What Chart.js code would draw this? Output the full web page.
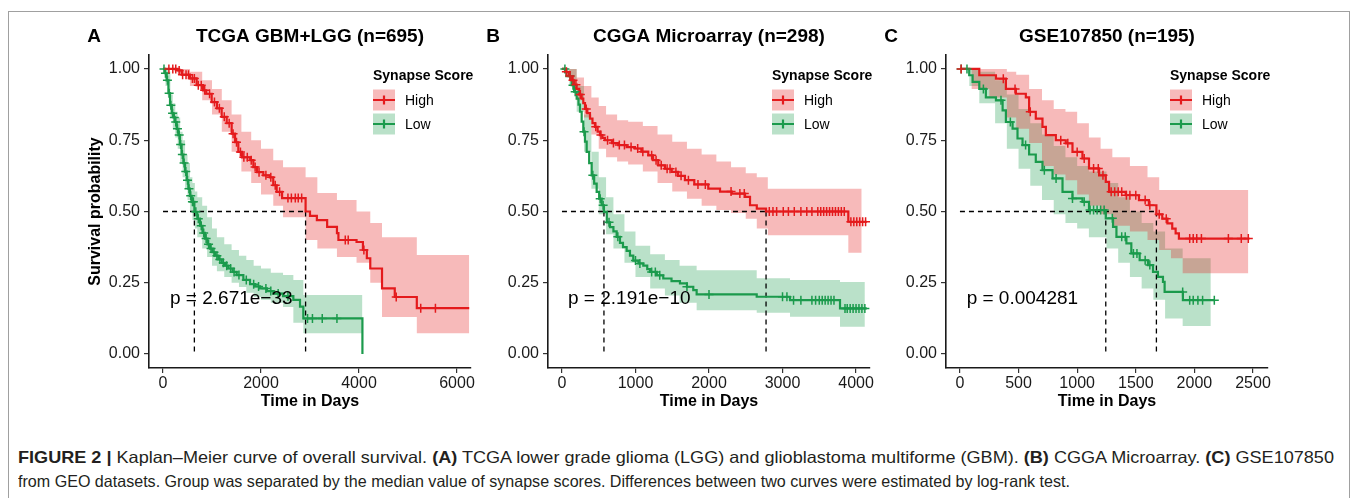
<!DOCTYPE html>
<html>
<head>
<meta charset="utf-8">
<script src="https://cdn.jsdelivr.net/npm/chart.js@4.4.0/dist/chart.umd.min.js"></script>
<style>
  html, body { margin: 0; padding: 0; background: #fff; }
  body { width: 1357px; height: 498px; position: relative; overflow: hidden; }
  #frame { position: absolute; left: 8px; top: 11px; width: 1340px; height: 500px; border: 1px solid #a0a0a0; }
  canvas { position: absolute; top: 0; }
  .capLine { position: absolute; left: 18px; font-family: 'Liberation Sans Narrow', 'Liberation Sans', Arial, sans-serif;
             font-size: 16.5px; line-height: 24px; color: #231f20; white-space: nowrap; transform-origin: 0 0; }
</style>
</head>
<body>
<div id="frame"></div>
<canvas id="cA" width="480" height="440" style="left:0px"></canvas>
<canvas id="cB" width="400" height="440" style="left:480px"></canvas>
<canvas id="cC" width="477" height="440" style="left:880px"></canvas>
<span class="capLine" id="capLine1" style="top:445px"><b>FIGURE 2 |</b> Kaplan–Meier curve of overall survival. <b>(A)</b> TCGA lower grade glioma (LGG) and glioblastoma multiforme (GBM). <b>(B)</b> CGGA Microarray. <b>(C)</b> GSE107850</span>
<span class="capLine" id="capLine2" style="top:469px">from GEO datasets. Group was separated by the median value of synapse scores. Differences between two curves were estimated by log-rank test.</span>
<script>
// ---- data ----
const groups = ['High', 'Low'];
const yTicks = [0, 0.25, 0.5, 0.75, 1];

// A: TCGA GBM+LGG
const tcgaTicks = [0, 2000, 4000, 6000];
const tcgaHighT = [0, 300, 380, 550, 687, 815, 883, 993, 1100, 1197, 1300, 1401, 1470, 1537, 1610, 1780, 1844, 1920, 2048, 2180, 2250, 2320, 2430, 2910, 3000, 3140, 3350, 3550, 3580, 3950, 4080, 4160, 4230, 4470, 4730, 5180, 6250];
const tcgaHighS = [1, 0.995, 0.98, 0.967, 0.943, 0.925, 0.913, 0.884, 0.862, 0.832, 0.81, 0.773, 0.743, 0.709, 0.69, 0.68, 0.656, 0.638, 0.627, 0.62, 0.592, 0.569, 0.547, 0.50, 0.485, 0.47, 0.446, 0.424, 0.40, 0.393, 0.365, 0.336, 0.30, 0.23, 0.20, 0.161, 0.161];
const tcgaHighBandT = [0, 300, 550, 800, 1000, 1200, 1400, 1600, 1800, 2000, 2250, 2450, 2910, 3150, 3550, 3950, 4230, 4470, 5180, 6250];
const tcgaHighLo = [1, 0.98, 0.94, 0.89, 0.84, 0.78, 0.71, 0.64, 0.60, 0.56, 0.52, 0.48, 0.40, 0.37, 0.34, 0.32, 0.25, 0.13, 0.073, 0.073];
const tcgaHighHi = [1, 1.0, 0.99, 0.96, 0.93, 0.89, 0.84, 0.78, 0.75, 0.72, 0.68, 0.655, 0.62, 0.565, 0.54, 0.50, 0.46, 0.41, 0.347, 0.347];
const tcgaHighCens = [120, 200, 260, 330, 400, 470, 520, 600, 640, 720, 780, 850, 950, 1050, 1150, 1250, 1350, 1430, 1500, 1580, 1650, 1720, 1800, 1880, 1960, 2100, 2200, 2290, 2380, 2550, 2620, 2700, 2760, 2830, 3720, 3780, 4100, 4760, 5260, 5560];
const tcgaLowT = [0, 40, 75, 110, 143, 180, 215, 245, 280, 312, 345, 380, 415, 450, 485, 517, 550, 585, 640, 700, 755, 806, 857, 908, 959, 1010, 1061, 1130, 1197, 1265, 1333, 1420, 1503, 1640, 1776, 1880, 1980, 2120, 2251, 2450, 2660, 2796, 2864, 4070];
const tcgaLowS = [1, 0.985, 0.96, 0.915, 0.873, 0.845, 0.83, 0.814, 0.79, 0.768, 0.735, 0.70, 0.67, 0.64, 0.61, 0.58, 0.555, 0.534, 0.499, 0.475, 0.45, 0.425, 0.405, 0.385, 0.37, 0.357, 0.345, 0.332, 0.32, 0.31, 0.30, 0.288, 0.277, 0.26, 0.245, 0.237, 0.23, 0.221, 0.212, 0.203, 0.19, 0.166, 0.125, 0];
const tcgaLowBandT = [0, 50, 100, 150, 200, 250, 300, 350, 400, 450, 500, 550, 600, 650, 700, 800, 900, 1000, 1100, 1250, 1400, 1550, 1700, 1850, 2000, 2200, 2450, 2660, 2864, 4070];
const tcgaLowLo = [1, 0.94, 0.90, 0.83, 0.79, 0.76, 0.72, 0.67, 0.62, 0.58, 0.54, 0.50, 0.47, 0.44, 0.41, 0.37, 0.34, 0.31, 0.29, 0.27, 0.25, 0.235, 0.215, 0.20, 0.19, 0.18, 0.165, 0.11, 0.073, 0.073];
const tcgaLowHi = [1, 1.0, 0.99, 0.91, 0.88, 0.85, 0.83, 0.78, 0.75, 0.70, 0.67, 0.62, 0.60, 0.57, 0.55, 0.52, 0.48, 0.44, 0.41, 0.385, 0.365, 0.345, 0.33, 0.31, 0.30, 0.285, 0.277, 0.26, 0.207, 0.207];
const tcgaLowCens = [20, 50, 90, 125, 160, 195, 230, 260, 295, 330, 360, 395, 430, 465, 500, 530, 565, 600, 620, 670, 720, 780, 830, 880, 930, 980, 1040, 1100, 1160, 1230, 1300, 1380, 1450, 1550, 1700, 1850, 1950, 2100, 2200, 2350, 2550, 2950, 3050, 3250, 3550];

// B: CGGA Microarray
const cggaTicks = [0, 1000, 2000, 3000, 4000];
const cggaHighT = [0, 41, 90, 132, 165, 200, 235, 268, 290, 313, 345, 381, 415, 449, 485, 517, 550, 585, 680, 766, 880, 993, 1080, 1174, 1240, 1310, 1400, 1493, 1580, 1673, 1800, 1990, 2150, 2309, 2490, 2558, 2650, 2776, 3895, 4145];
const cggaHighS = [1, 0.99, 0.975, 0.96, 0.945, 0.93, 0.91, 0.896, 0.88, 0.86, 0.845, 0.826, 0.81, 0.797, 0.78, 0.768, 0.758, 0.75, 0.74, 0.733, 0.726, 0.721, 0.71, 0.697, 0.68, 0.662, 0.65, 0.639, 0.625, 0.61, 0.595, 0.58, 0.57, 0.563, 0.551, 0.522, 0.51, 0.50, 0.464, 0.464];
const cggaHighBandT = [0, 100, 200, 300, 400, 500, 600, 750, 900, 1100, 1300, 1500, 1700, 1900, 2100, 2300, 2500, 2650, 2800, 3895, 4077];
const cggaHighLo = [1, 0.96, 0.89, 0.83, 0.77, 0.72, 0.69, 0.675, 0.665, 0.64, 0.60, 0.57, 0.545, 0.52, 0.505, 0.495, 0.475, 0.44, 0.417, 0.355, 0.355];
const cggaHighHi = [1, 1.0, 0.97, 0.94, 0.90, 0.87, 0.84, 0.82, 0.815, 0.80, 0.77, 0.745, 0.72, 0.70, 0.675, 0.655, 0.634, 0.62, 0.58, 0.58, 0.58];
const cggaHighCens = [60, 110, 150, 190, 250, 330, 460, 530, 620, 700, 780, 850, 940, 1030, 1100, 1220, 1280, 1350, 1430, 1470, 1550, 1620, 1720, 1850, 1950, 2300, 2420, 2480, 2820, 2870, 2920, 3010, 3080, 3160, 3250, 3330, 3400, 3480, 3520, 3560, 3600, 3640, 3680, 3720, 3760, 3800, 3840, 3930, 3970, 4010, 4050, 4090, 4130];
const cggaLowT = [0, 60, 132, 165, 200, 225, 245, 268, 290, 313, 336, 370, 404, 438, 472, 506, 540, 571, 610, 653, 700, 744, 789, 830, 880, 925, 970, 1040, 1106, 1160, 1197, 1290, 1378, 1490, 1605, 1700, 1786, 1832, 2649, 3102, 3782, 4145];
const cggaLowS = [1, 0.975, 0.943, 0.92, 0.896, 0.875, 0.85, 0.815, 0.78, 0.745, 0.709, 0.67, 0.627, 0.598, 0.569, 0.545, 0.522, 0.499, 0.462, 0.445, 0.43, 0.411, 0.39, 0.375, 0.362, 0.345, 0.328, 0.318, 0.31, 0.298, 0.288, 0.276, 0.265, 0.256, 0.248, 0.236, 0.224, 0.209, 0.201, 0.189, 0.16, 0.16];
const cggaLowBandT = [0, 100, 200, 300, 400, 500, 600, 700, 850, 1000, 1200, 1400, 1600, 1832, 2649, 3102, 3782, 4120];
const cggaLowLo = [1, 0.94, 0.85, 0.71, 0.58, 0.49, 0.42, 0.37, 0.32, 0.27, 0.23, 0.205, 0.18, 0.154, 0.145, 0.131, 0.096, 0.096];
const cggaLowHi = [1, 1.0, 0.94, 0.84, 0.71, 0.62, 0.55, 0.49, 0.43, 0.38, 0.35, 0.33, 0.31, 0.294, 0.266, 0.26, 0.253, 0.253];
const cggaLowCens = [40, 110, 150, 180, 300, 420, 520, 560, 640, 760, 1000, 1060, 1220, 1270, 1330, 1700, 2000, 3000, 3060, 3150, 3250, 3400, 3450, 3500, 3540, 3580, 3620, 3660, 3700, 3850, 3880, 3920, 3960, 4000, 4040, 4080, 4120];

// C: GSE107850
const gseTicks = [0, 500, 1000, 1500, 2000, 2500];
const gseHighT = [0, 165, 307, 392, 477, 562, 590, 647, 704, 733, 818, 903, 960, 1045, 1101, 1187, 1244, 1272, 1414, 1527, 1612, 1676, 1726, 1770, 1811, 1840, 1868, 2470];
const gseHighS = [1, 0.978, 0.966, 0.93, 0.913, 0.90, 0.85, 0.826, 0.797, 0.768, 0.75, 0.739, 0.709, 0.686, 0.651, 0.627, 0.604, 0.569, 0.557, 0.54, 0.522, 0.49, 0.475, 0.458, 0.44, 0.423, 0.405, 0.405];
const gseHighBandT = [0, 100, 250, 400, 480, 590, 700, 800, 900, 1000, 1100, 1200, 1300, 1450, 1600, 1700, 1800, 1900, 2460];
const gseHighLo = [1, 0.93, 0.90, 0.83, 0.79, 0.74, 0.66, 0.63, 0.61, 0.56, 0.52, 0.49, 0.45, 0.43, 0.40, 0.365, 0.336, 0.283, 0.283];
const gseHighHi = [1, 1.0, 1.0, 0.99, 0.98, 0.93, 0.89, 0.86, 0.85, 0.81, 0.76, 0.72, 0.69, 0.66, 0.62, 0.575, 0.575, 0.575, 0.575];
const gseHighCens = [10, 370, 470, 600, 860, 920, 1000, 1060, 1140, 1180, 1220, 1290, 1320, 1350, 1380, 1420, 1450, 1500, 1580, 1620, 1700, 1760, 1960, 1990, 2020, 2060, 2290, 2400, 2460];
const gseLowT = [0, 79, 108, 165, 221, 307, 364, 392, 449, 491, 534, 590, 647, 704, 790, 875, 960, 1045, 1101, 1244, 1306, 1335, 1420, 1462, 1533, 1604, 1647, 1689, 1732, 1746, 1902, 2172];
const gseLowS = [1, 0.978, 0.955, 0.93, 0.90, 0.89, 0.855, 0.814, 0.791, 0.756, 0.733, 0.70, 0.674, 0.645, 0.616, 0.569, 0.546, 0.534, 0.505, 0.476, 0.446, 0.411, 0.388, 0.353, 0.329, 0.312, 0.288, 0.271, 0.253, 0.218, 0.189, 0.189];
const gseLowBandT = [0, 80, 165, 300, 400, 500, 600, 700, 800, 900, 1000, 1100, 1250, 1350, 1450, 1550, 1650, 1750, 1900, 2140];
const gseLowLo = [1, 0.94, 0.88, 0.81, 0.72, 0.65, 0.59, 0.54, 0.49, 0.46, 0.44, 0.41, 0.37, 0.32, 0.27, 0.23, 0.19, 0.125, 0.098, 0.098];
const gseLowHi = [1, 1.0, 0.99, 0.96, 0.91, 0.86, 0.81, 0.77, 0.73, 0.69, 0.66, 0.64, 0.60, 0.55, 0.50, 0.46, 0.43, 0.37, 0.336, 0.336];
const gseLowCens = [10, 60, 200, 350, 430, 560, 720, 820, 960, 1060, 1110, 1140, 1170, 1200, 1230, 1300, 1380, 1410, 1480, 1510, 1580, 1620, 1900, 1960, 1990, 2030, 2070, 2170];

const pValues = ['2.671e\u221233', '2.191e\u221210', '0.004281'];

// ---- drawing ----
const FF = "'Liberation Sans', Arial, sans-serif";
const RED = '#E41A1C', RED_FILL = 'rgba(228,26,28,0.3)';
const GREEN = '#1B9A4C', GREEN_FILL = 'rgba(27,154,76,0.3)';
Chart.defaults.font.family = FF;

const pts = (T, S) => T.map((t, i) => ({ x: t, y: S[i] }));
function survAt(T, S, t) {
  let v = S[0];
  for (let i = 0; i < T.length && T[i] <= t; i++) v = S[i];
  return v;
}
function medianOf(T, S) {
  for (let i = 0; i < T.length; i++) if (S[i] <= 0.5) return T[i];
  return null;
}

function groupSets(g, color, fill) {
  return [
    { data: pts(g.bandT, g.hi), showLine: true, stepped: true, borderWidth: 0, borderColor: 'transparent',
      pointRadius: 0, fill: '+1', backgroundColor: fill, order: 10 },
    { data: pts(g.bandT, g.lo), showLine: true, stepped: true, borderWidth: 0, borderColor: 'transparent',
      pointRadius: 0, fill: false, order: 10 },
    { data: pts(g.T, g.S), showLine: true, stepped: true, borderColor: color, borderWidth: 2.2,
      pointRadius: 0, fill: false, order: 3 },
    { data: g.cens.map(t => ({ x: t, y: survAt(g.T, g.S, t) })), showLine: false, pointStyle: 'cross',
      pointRadius: 4.5, borderColor: color, pointBorderColor: color, pointBorderWidth: 1.5, order: 2 }
  ];
}

const decor = {
  id: 'decor',
  afterDraw(chart, args, o) {
    const { ctx, chartArea: a, scales: { x, y } } = chart;
    const cx = (a.left + a.right) / 2;
    ctx.save();
    ctx.fillStyle = '#000';
    ctx.textBaseline = 'middle';
    ctx.textAlign = 'center';
    ctx.font = 'bold 19px ' + FF;
    ctx.fillText(o.letter, a.left - 55, 37);
    ctx.fillText(o.title, cx, 37);
    ctx.font = 'bold 16px ' + FF;
    ctx.fillText('Time in Days', cx, 402);
    if (o.yTitle) {
      ctx.save();
      ctx.translate(a.left - 53, (a.top + a.bottom) / 2);
      ctx.rotate(-Math.PI / 2);
      ctx.fillText(o.yTitle, 0, 0);
      ctx.restore();
    }
    ctx.textAlign = 'left';
    ctx.font = '19px ' + FF;
    ctx.fillText('p = ' + o.p, x.getPixelForValue(o.pX), y.getPixelForValue(0.193));

    // legend
    const lx = a.right - 98;
    ctx.font = 'bold 14px ' + FF;
    ctx.fillText('Synapse Score', lx, 76);
    const keys = [[RED, RED_FILL, 100], [GREEN, GREEN_FILL, 124]];
    ctx.font = '14px ' + FF;
    keys.forEach(([c, f, ky], i) => {
      ctx.fillStyle = f;
      ctx.fillRect(lx, ky - 10.5, 22, 21);
      ctx.strokeStyle = c;
      ctx.lineWidth = 2.2;
      ctx.beginPath();
      ctx.moveTo(lx, ky); ctx.lineTo(lx + 22, ky);
      ctx.moveTo(lx + 11, ky - 4.5); ctx.lineTo(lx + 11, ky + 4.5);
      ctx.stroke();
      ctx.fillStyle = '#000';
      ctx.fillText(groups[i], lx + 32, ky + 1);
    });
    ctx.restore();
  }
};

function makePanel(id, p) {
  const mHigh = medianOf(p.high.T, p.high.S);
  const mLow = medianOf(p.low.T, p.low.S);
  const dash = { showLine: true, borderColor: '#000', borderWidth: 1.3, borderDash: [5, 4], pointRadius: 0, fill: false, order: 5 };
  const datasets = [
    ...groupSets(p.high, RED, RED_FILL),
    ...groupSets(p.low, GREEN, GREEN_FILL),
    Object.assign({ data: [{ x: 0, y: 0.5 }, { x: Math.max(mHigh, mLow), y: 0.5 }] }, dash),
    Object.assign({ data: [{ x: mHigh, y: 0.5 }, { x: mHigh, y: 0 }] }, dash),
    Object.assign({ data: [{ x: mLow, y: 0.5 }, { x: mLow, y: 0 }] }, dash)
  ];
  const cv = document.getElementById(id);
  const W = cv.width, H = cv.height;
  const tickFont = { size: 16, family: FF };
  new Chart(cv, {
    type: 'scatter',
    data: { datasets },
    options: {
      responsive: false,
      animation: false,
      devicePixelRatio: 1,
      layout: { padding: { top: 55, right: W - p.right, left: 0, bottom: 0 } },
      plugins: { legend: { display: false }, tooltip: { enabled: false }, decor: p.decor },
      scales: {
        x: {
          type: 'linear', min: p.xMin, max: p.xMax,
          afterBuildTicks: s => { s.ticks = p.xTicks.map(v => ({ value: v })); },
          afterFit: s => { s.height = H - 368; },
          ticks: { font: tickFont, color: '#1a1a1a', padding: 1, maxRotation: 0, callback: v => String(v) },
          grid: { drawOnChartArea: false, drawTicks: true, tickLength: 5, color: '#333', lineWidth: 1.2 },
          border: { display: true, color: '#1a1a1a', width: 1.6 }
        },
        y: {
          type: 'linear', min: -0.049, max: 1.049,
          afterBuildTicks: s => { s.ticks = yTicks.map(v => ({ value: v })); },
          afterFit: s => { s.width = p.left; },
          ticks: { font: tickFont, color: '#1a1a1a', padding: 4, callback: v => v.toFixed(2) },
          grid: { drawOnChartArea: false, drawTicks: true, tickLength: 5, color: '#333', lineWidth: 1.2 },
          border: { display: true, color: '#1a1a1a', width: 1.6 }
        }
      }
    },
    plugins: [decor]
  });
}

makePanel('cA', {
  left: 149, right: 471, xMin: -286, xMax: 6286, xTicks: tcgaTicks,
  high: { T: tcgaHighT, S: tcgaHighS, bandT: tcgaHighBandT, lo: tcgaHighLo, hi: tcgaHighHi, cens: tcgaHighCens },
  low: { T: tcgaLowT, S: tcgaLowS, bandT: tcgaLowBandT, lo: tcgaLowLo, hi: tcgaLowHi, cens: tcgaLowCens },
  decor: { letter: 'A', title: 'TCGA GBM+LGG (n=695)', yTitle: 'Survival probability', p: pValues[0], pX: 143 }
});
makePanel('cB', {
  left: 68, right: 390, xMin: -190, xMax: 4190, xTicks: cggaTicks,
  high: { T: cggaHighT, S: cggaHighS, bandT: cggaHighBandT, lo: cggaHighLo, hi: cggaHighHi, cens: cggaHighCens },
  low: { T: cggaLowT, S: cggaLowS, bandT: cggaLowBandT, lo: cggaLowLo, hi: cggaLowHi, cens: cggaLowCens },
  decor: { letter: 'B', title: 'CGGA Microarray (n=298)', p: pValues[1], pX: 82 }
});
makePanel('cC', {
  left: 66, right: 388, xMin: -119, xMax: 2628, xTicks: gseTicks,
  high: { T: gseHighT, S: gseHighS, bandT: gseHighBandT, lo: gseHighLo, hi: gseHighHi, cens: gseHighCens },
  low: { T: gseLowT, S: gseLowS, bandT: gseLowBandT, lo: gseLowLo, hi: gseLowHi, cens: gseLowCens },
  decor: { letter: 'C', title: 'GSE107850 (n=195)', p: pValues[2], pX: 57 }
});

// caption: condense each printed line to its width in the figure
[['capLine1', 1316], ['capLine2', 1052]].forEach(([id, target]) => {
  const el = document.getElementById(id);
  el.style.transform = 'scaleX(' + (target / el.getBoundingClientRect().width) + ')';
});
</script>
</body>
</html>
